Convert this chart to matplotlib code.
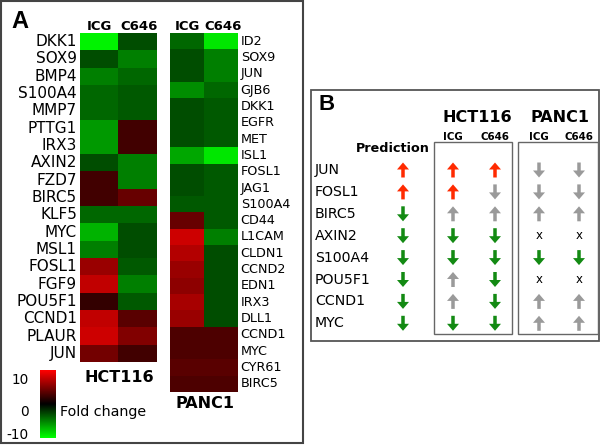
import numpy as np
import matplotlib.pyplot as plt
from matplotlib.colors import LinearSegmentedColormap
from matplotlib.patches import Rectangle

# Panel A data: fold change (ICG, C646)
hct_genes = ["DKK1", "SOX9", "BMP4", "S100A4", "MMP7", "PTTG1", "IRX3", "AXIN2", "FZD7",
             "BIRC5", "KLF5", "MYC", "MSL1", "FOSL1", "FGF9", "POU5F1", "CCND1", "PLAUR", "JUN"]
hct_icg = [-9.5, -3, -5, -4, -4, -6, -6, -3, 2.5, 2.5, -4, -7, -5, 6, 7.5, 2, 7.5, 8, 4.5]
hct_c646 = [-3, -5, -4, -3.5, -3.5, 2.5, 2.5, -5, -5, 4, -4, -3, -3, -3.5, -5, -3.5, 3.5, 5, 2.5]

panc_genes = ["ID2", "SOX9", "JUN", "GJB6", "DKK1", "EGFR", "MET", "ISL1", "FOSL1", "JAG1",
              "S100A4", "CD44", "L1CAM", "CLDN1", "CCND2", "EDN1", "IRX3", "DLL1", "CCND1",
              "MYC", "CYR61", "BIRC5"]
panc_icg = [-4, -3, -3, -5.5, -3, -3, -3, -6.5, -3, -3, -3.5, 4, 8, 7, 6, 5.5, 6.5, 6,
            3, 3, 3.5, 3]
panc_c646 = [-9, -5, -5, -4, -3.5, -3.5, -3.5, -9, -3.5, -3.5, -3.5, -3.5, -5, -3, -3, -3,
             -3, -3, 3, 3, 3.5, 3]

# Panel B data: 'u' up, 'd' down, 'x' not measured
b_genes = ["JUN", "FOSL1", "BIRC5", "AXIN2", "S100A4", "POU5F1", "CCND1", "MYC"]
prediction = ["u", "u", "d", "d", "d", "d", "d", "d"]
hct_icg_dir = ["u", "u", "u", "d", "d", "u", "u", "d"]
hct_c646_dir = ["u", "d", "u", "d", "d", "d", "d", "d"]
panc_icg_dir = ["d", "d", "u", "x", "d", "x", "u", "u"]
panc_c646_dir = ["d", "d", "u", "x", "d", "x", "u", "u"]

FONT = "DejaVu Sans"
W, H = 600, 445
fig = plt.figure(figsize=(6, 4.45), dpi=100)

# background axes in pixel coordinates for frames, labels and panel B
bg = fig.add_axes([0, 0, 1, 1])
bg.set_xlim(0, W)
bg.set_ylim(H, 0)
bg.axis("off")

cmap = LinearSegmentedColormap.from_list("gkr", ["#00ff00", "#000000", "#ff0000"])


def px_axes(x0, y0, x1, y1):
    return fig.add_axes([x0 / W, 1 - y1 / H, (x1 - x0) / W, (y1 - y0) / H])


def heat(ax, icg, c646):
    data = np.column_stack([icg, c646])
    ax.imshow(data, cmap=cmap, vmin=-10, vmax=10, aspect="auto", interpolation="nearest")
    ax.set_xticks([])
    ax.set_yticks([])
    for s in ax.spines.values():
        s.set_visible(False)


# panel A frame
bg.add_patch(Rectangle((1, 1), 302, 442, fill=False, ec="#444444", lw=1.5))
bg.text(11, 22, "A", fontsize=17, fontweight="bold", family="Liberation Sans", va="center")

ax1 = px_axes(80, 33, 157, 362)
heat(ax1, hct_icg, hct_c646)
for i, g in enumerate(hct_genes):
    ax1.text(-0.58, i, g, ha="right", va="center", fontsize=11, family=FONT)
for j, c in enumerate(["ICG", "C646"]):
    bg.text(99 + j * 40, 26, c, ha="center", va="center", fontsize=9.5,
            fontweight="bold", family=FONT)
bg.text(119, 377, "HCT116", ha="center", va="center", fontsize=11.5,
        fontweight="bold", family=FONT)

ax2 = px_axes(170, 33, 238, 392)
heat(ax2, panc_icg, panc_c646)
for i, g in enumerate(panc_genes):
    ax2.text(1.58, i, g, ha="left", va="center", fontsize=9.2, family=FONT)
for j, c in enumerate(["ICG", "C646"]):
    bg.text(187 + j * 36, 26, c, ha="center", va="center", fontsize=9.5,
            fontweight="bold", family=FONT)
bg.text(205, 404, "PANC1", ha="center", va="center", fontsize=11.5,
        fontweight="bold", family=FONT)

# color scale (tick labels sit a little inside the bar ends, as in the original)
cax = px_axes(40, 370, 55, 438)
grad = np.linspace(10, -10, 100).reshape(-1, 1)
cax.imshow(grad, cmap=cmap, vmin=-10, vmax=10, aspect="auto",
           extent=[0, 1, -10, 10])
cax.set_xticks([])
cax.yaxis.tick_left()
cax.set_yticks([7.6, -1.8, -8.6])
cax.set_yticklabels(["10", "0", "-10"], fontsize=9.8, family=FONT)
cax.tick_params(length=0, pad=8)
for s in cax.spines.values():
    s.set_visible(False)
bg.text(60, 412, "Fold change", ha="left", va="center", fontsize=10.3, family=FONT)

# panel B
bg.add_patch(Rectangle((311, 90), 288, 251, fill=False, ec="#555555", lw=1.3))
bg.text(318, 105, "B", fontsize=16, fontweight="bold", family="Liberation Sans", va="center")
bg.add_patch(Rectangle((434, 142), 78, 192, fill=False, ec="#666666", lw=1))
bg.add_patch(Rectangle((518, 142), 80, 192, fill=False, ec="#666666", lw=1))
bg.text(477, 117, "HCT116", ha="center", va="center", fontsize=11.5,
        fontweight="bold", family=FONT)
bg.text(560, 117, "PANC1", ha="center", va="center", fontsize=11.5,
        fontweight="bold", family=FONT)
bg.text(393, 149, "Prediction", ha="center", va="center", fontsize=9.2,
        fontweight="bold", family=FONT)

cols = [prediction, hct_icg_dir, hct_c646_dir, panc_icg_dir, panc_c646_dir]
col_x = [403, 453, 495, 539, 579]
for x, lab in zip(col_x[1:], ["ICG", "C646", "ICG", "C646"]):
    bg.text(x, 137, lab, ha="center", va="center", fontsize=7.4,
            fontweight="bold", family=FONT)

row_y0, row_dy = 170, 21.9
for i, g in enumerate(b_genes):
    y = row_y0 + i * row_dy
    bg.text(315, y, g, ha="left", va="center", fontsize=10.2, family=FONT)
    for k, (x, col) in enumerate(zip(col_x, cols)):
        d = col[i]
        if d == "x":
            bg.text(x, y, "x", ha="center", va="center", fontsize=8.5, family=FONT)
            continue
        if d == prediction[i]:
            color = "#ff2a00" if d == "u" else "#138a13"
        else:
            color = "#9a9a9a"
        sign = -1 if d == "u" else 1
        bg.arrow(x, y - sign * 7.5, 0, sign * 15, width=3.5, head_width=12,
                 head_length=7, length_includes_head=True, color=color, lw=0)

fig.savefig("out.png", dpi=100)
